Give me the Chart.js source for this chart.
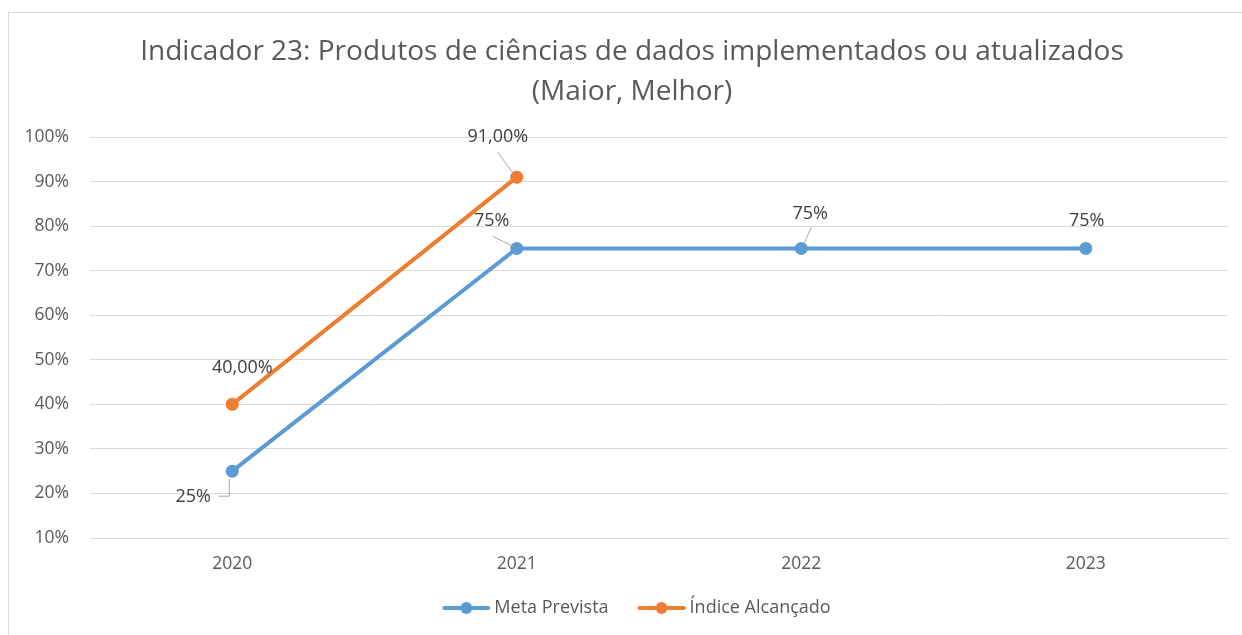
<!DOCTYPE html>
<html>
<head>
<meta charset="utf-8">
<script src="https://cdn.jsdelivr.net/npm/chart.js@4.4.0/dist/chart.umd.min.js"></script>
<style>
html, body { margin: 0; padding: 0; background: #fff; overflow: hidden; }
#frame { position: absolute; left: 8px; top: 12px; width: 1300px; height: 700px; border: 1px solid #d9d9d9; }
#wrap { position: absolute; left: 0; top: 0; width: 1266px; height: 635px; }
</style>
</head>
<body>
<div id="frame"></div>
<div id="wrap"><canvas id="indicadorChart"></canvas></div>
<script>
// dados do gráfico
var anos = ['2020', '2021', '2022', '2023'];
var metaPrevista = [25, 75, 75, 75];
var indiceAlcancado = [40, 91, null, null];
var yMin = 10;
var yMax = 100;
var yStep = 10;

var azul = '#5b9bd5';
var laranja = '#ed7d31';
var fonte = "'Open Sans', sans-serif";

// posição dos rótulos de dados em relação ao ponto (px) e linhas de chamada
var rotulos = [
    [
        { dx: -39, dy: 26, linha: [[-3, 8], [-3, 25], [-14, 25]] },
        { dx: -25, dy: -28, linha: [[-24, -12], [-3, -2]] },
        { dx: 9, dy: -35, linha: [[10, -21], [2, -3]] },
        { dx: 1, dy: -28 }
    ],
    [
        { dx: 10, dy: -36 },
        { dx: -19, dy: -40, linha: [[-19, -25], [-3, -3]] }
    ]
];

function formatar(dsIndex, v) {
    if (dsIndex === 1) {
        return v.toFixed(2).replace('.', ',') + '%';
    }
    return v + '%';
}

var rotulosPlugin = {
    id: 'rotulos',
    afterDatasetsDraw: function (chart) {
        var ctx = chart.ctx;
        ctx.save();
        chart.data.datasets.forEach(function (ds, di) {
            var meta = chart.getDatasetMeta(di);
            meta.data.forEach(function (pt, i) {
                var v = ds.data[i];
                if (v === null || v === undefined) return;
                var r = rotulos[di][i];
                if (!r) return;
                if (r.linha) {
                    ctx.strokeStyle = '#a6a6a6';
                    ctx.lineWidth = 1;
                    ctx.beginPath();
                    r.linha.forEach(function (p, k) {
                        if (k === 0) ctx.moveTo(pt.x + p[0], pt.y + p[1]);
                        else ctx.lineTo(pt.x + p[0], pt.y + p[1]);
                    });
                    ctx.stroke();
                }
                ctx.fillStyle = '#404040';
                ctx.font = '18px ' + fonte;
                ctx.textAlign = 'center';
                ctx.textBaseline = 'middle';
                ctx.fillText(formatar(di, v), pt.x + r.dx, pt.y + r.dy);
            });
        });
        ctx.restore();
    }
};

// centraliza título e legenda na largura total do quadro
var centroPlugin = {
    id: 'centro',
    afterLayout: function (chart) {
        chart.titleBlock.left += 36;
        chart.legend.left += 26;
    }
};

// marcador da legenda: linha com ponto, com espaço livre à esquerda
function marcadorLegenda(cor) {
    var c = document.createElement('canvas');
    c.width = 72;
    c.height = 14;
    var g = c.getContext('2d');
    g.strokeStyle = cor;
    g.lineWidth = 4;
    g.lineCap = 'round';
    g.beginPath();
    g.moveTo(26, 7);
    g.lineTo(70, 7);
    g.stroke();
    g.fillStyle = cor;
    g.beginPath();
    g.arc(48, 7, 6, 0, Math.PI * 2);
    g.fill();
    return c;
}
var marcadores = [marcadorLegenda(azul), marcadorLegenda(laranja)];

var ctx = document.getElementById('indicadorChart').getContext('2d');
var indicadorChart = new Chart(ctx, {
    type: 'line',
    data: {
        labels: anos,
        datasets: [
            {
                label: 'Meta Prevista',
                data: metaPrevista,
                borderColor: azul,
                backgroundColor: azul,
                borderWidth: 4,
                pointRadius: 6.5,
                pointBorderWidth: 0,
                pointBackgroundColor: azul,
                tension: 0
            },
            {
                label: 'Índice Alcançado',
                data: indiceAlcancado,
                borderColor: laranja,
                backgroundColor: laranja,
                borderWidth: 4,
                pointRadius: 6.5,
                pointBorderWidth: 0,
                pointBackgroundColor: laranja,
                tension: 0
            }
        ]
    },
    options: {
        responsive: true,
        maintainAspectRatio: false,
        animation: false,
        layout: {
            padding: { top: 12, right: 38, bottom: 8, left: 0 }
        },
        plugins: {
            title: {
                display: true,
                text: ['Indicador 23: Produtos de ciências de dados implementados ou atualizados', '(Maior, Melhor)'],
                color: '#595959',
                font: { family: fonte, size: 28, weight: 'normal', lineHeight: 1.43 },
                padding: { top: 20, bottom: 25 }
            },
            legend: {
                position: 'bottom',
                labels: {
                    usePointStyle: true,
                    pointStyleWidth: 62,
                    padding: 10,
                    color: '#595959',
                    font: { family: fonte, size: 18 },
                    generateLabels: function (chart) {
                        var items = Chart.defaults.plugins.legend.labels.generateLabels(chart);
                        items.forEach(function (it, i) {
                            it.pointStyle = marcadores[i];
                        });
                        return items;
                    }
                }
            },
            tooltip: { enabled: false }
        },
        scales: {
            x: {
                offset: true,
                grid: { display: false },
                border: { display: true, color: '#d9d9d9' },
                ticks: {
                    color: '#595959',
                    font: { family: fonte, size: 17.5 },
                    padding: 8
                },
                afterFit: function (scale) {
                    scale.height = 51;
                }
            },
            y: {
                min: yMin,
                max: yMax,
                grid: { color: '#d9d9d9', drawTicks: false },
                border: { display: false },
                ticks: {
                    stepSize: yStep,
                    color: '#595959',
                    font: { family: fonte, size: 17.5 },
                    padding: 21,
                    callback: function (v) { return v + '%'; }
                },
                afterFit: function (scale) {
                    scale.width = 90;
                }
            }
        }
    },
    plugins: [rotulosPlugin, centroPlugin]
});
</script>
</body>
</html>
